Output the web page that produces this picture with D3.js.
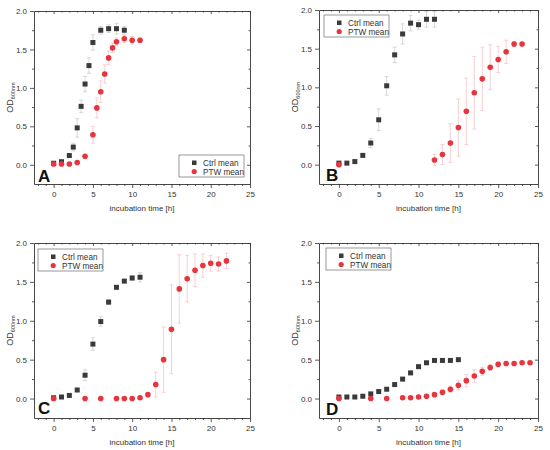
<!DOCTYPE html>
<html><head><meta charset="utf-8">
<script src="https://cdn.jsdelivr.net/npm/d3@7"></script>
<style>body{margin:0;background:#fff}svg{display:block;font-family:"Liberation Sans",Arial,sans-serif}</style>
</head><body>
<svg id="chart" width="550" height="450"></svg>
<script>
// ---- data ----
const panelLabels = ["A", "B", "C", "D"];
const seriesNames = ["Ctrl mean", "PTW mean"];
const xTicks = [0, 5, 10, 15, 20, 25];
const yTicks = [0.0, 0.5, 1.0, 1.5, 2.0];
const xLabel = "incubation time [h]";

const ctrlTimeA = [0, 1, 2, 2.5, 3, 3.5, 4, 4.5, 5, 6, 7, 8, 9];
const ctrlMeanA = [0.02, 0.04, 0.12, 0.23, 0.48, 0.76, 1.05, 1.29, 1.59, 1.75, 1.77, 1.77, 1.75];
const ctrlErrA  = [0.01, 0.01, 0.02, 0.05, 0.12, 0.08, 0.10, 0.10, 0.10, 0.05, 0.05, 0.07, 0.05];
const ptwTimeA  = [0, 1, 2, 3, 4, 5, 5.5, 6, 6.5, 7, 7.5, 8, 9, 10, 11];
const ptwMeanA  = [0.01, 0.01, 0.01, 0.03, 0.11, 0.39, 0.74, 0.95, 1.18, 1.39, 1.52, 1.60, 1.64, 1.62, 1.62];
const ptwErrA   = [0.01, 0.01, 0.01, 0.01, 0.02, 0.11, 0.13, 0.14, 0.12, 0.09, 0.06, 0.05, 0.05, 0.05, 0.03];

const ctrlTimeB = [0, 1, 2, 3, 4, 5, 6, 7, 8, 9, 10, 11, 12];
const ctrlMeanB = [0.02, 0.02, 0.04, 0.12, 0.28, 0.58, 1.02, 1.42, 1.69, 1.83, 1.81, 1.88, 1.88];
const ctrlErrB  = [0.01, 0.01, 0.01, 0.02, 0.06, 0.14, 0.12, 0.10, 0.13, 0.10, 0.06, 0.10, 0.10];
const ptwTimeB  = [0, 12, 13, 14, 15, 16, 17, 18, 19, 20, 21, 22, 23];
const ptwMeanB  = [0.00, 0.06, 0.13, 0.28, 0.48, 0.69, 0.93, 1.11, 1.26, 1.36, 1.46, 1.56, 1.56];
const ptwErrB   = [0.01, 0.07, 0.13, 0.25, 0.37, 0.43, 0.47, 0.41, 0.29, 0.17, 0.15, 0.03, 0.02];

const ctrlTimeC = [0, 1, 2, 3, 4, 5, 6, 7, 8, 9, 10, 11];
const ctrlMeanC = [0.01, 0.02, 0.04, 0.11, 0.30, 0.70, 0.99, 1.24, 1.43, 1.51, 1.55, 1.56];
const ctrlErrC  = [0.01, 0.01, 0.01, 0.02, 0.07, 0.08, 0.06, 0.03, 0.02, 0.02, 0.03, 0.06];
const ptwTimeC  = [0, 4, 6, 8, 9, 10, 11, 12, 13, 14, 15, 16, 17, 18, 19, 20, 21, 22];
const ptwMeanC  = [0.00, 0.00, 0.00, 0.00, 0.00, 0.00, 0.01, 0.05, 0.18, 0.50, 0.89, 1.41, 1.54, 1.65, 1.71, 1.74, 1.73, 1.77];
const ptwErrC   = [0.01, 0.01, 0.01, 0.01, 0.01, 0.01, 0.01, 0.02, 0.16, 0.42, 0.57, 0.44, 0.30, 0.21, 0.15, 0.10, 0.09, 0.10];

const ctrlTimeD = [0, 1, 2, 3, 4, 5, 6, 7, 8, 9, 10, 11, 12, 13, 14, 15];
const ctrlMeanD = [0.02, 0.02, 0.02, 0.03, 0.06, 0.09, 0.12, 0.18, 0.25, 0.33, 0.41, 0.46, 0.49, 0.49, 0.49, 0.50];
const ctrlErrD  = [0.01, 0.01, 0.01, 0.01, 0.01, 0.01, 0.01, 0.01, 0.01, 0.02, 0.02, 0.02, 0.01, 0.01, 0.01, 0.01];
const ptwTimeD  = [0, 4, 6, 8, 9, 10, 11, 12, 13, 14, 15, 16, 17, 18, 19, 20, 21, 22, 23, 24];
const ptwMeanD  = [0.00, 0.00, 0.00, 0.01, 0.01, 0.02, 0.03, 0.05, 0.08, 0.12, 0.17, 0.23, 0.29, 0.35, 0.40, 0.44, 0.45, 0.45, 0.46, 0.46];
const ptwErrD   = [0.01, 0.01, 0.01, 0.01, 0.01, 0.01, 0.01, 0.02, 0.03, 0.04, 0.06, 0.08, 0.08, 0.05, 0.04, 0.03, 0.02, 0.02, 0.02, 0.02];

// ---- layout (positions/styles) ----
const layout = [
  {x0: 34, x1: 250, y0: 11, y1: 184, legend: [179, 155], letter: [38, 182]},
  {x0: 319, x1: 538, y0: 10, y1: 184, legend: [324, 15], letter: [326, 181]},
  {x0: 34, x1: 250, y0: 243, y1: 418, legend: [38, 249], letter: [38, 414]},
  {x0: 319, x1: 538, y0: 243, y1: 418, legend: [326, 248], letter: [326, 415]}
];
const panelData = [
  [[ctrlTimeA, ctrlMeanA, ctrlErrA], [ptwTimeA, ptwMeanA, ptwErrA]],
  [[ctrlTimeB, ctrlMeanB, ctrlErrB], [ptwTimeB, ptwMeanB, ptwErrB]],
  [[ctrlTimeC, ctrlMeanC, ctrlErrC], [ptwTimeC, ptwMeanC, ptwErrC]],
  [[ctrlTimeD, ctrlMeanD, ctrlErrD], [ptwTimeD, ptwMeanD, ptwErrD]]
];
const markerColor = ["#3a3a3a", "#e8343c"];
const errColor = ["#cdcdcd", "#f5c4c6"];
const axisColor = "#333";
const textColor = "#333";

const svg = d3.select("#chart");

panelData.forEach((series, pi) => {
  const L = layout[pi];
  const x = d3.scaleLinear().domain([-2.5, 25]).range([L.x0, L.x1]);
  const y = d3.scaleLinear().domain([-0.25, 2.0]).range([L.y1, L.y0]);
  const g = svg.append("g");

  const minorX = d3.range(-2, 25, 1).filter(v => v % 5 !== 0);
  const minorY = [0.25, 0.75, 1.25, 1.75];

  // bottom axis
  g.append("g").attr("transform", `translate(0,${L.y1})`)
    .call(d3.axisBottom(x).tickValues(xTicks).tickFormat(d3.format("d")).tickSize(4).tickSizeOuter(0).tickPadding(3));
  g.append("g").attr("transform", `translate(0,${L.y1})`)
    .call(d3.axisBottom(x).tickValues(minorX).tickFormat("").tickSize(2)).select(".domain").remove();
  // left axis
  g.append("g").attr("transform", `translate(${L.x0},0)`)
    .call(d3.axisLeft(y).tickValues(yTicks).tickFormat(d3.format(".1f")).tickSize(4).tickSizeOuter(0).tickPadding(3));
  g.append("g").attr("transform", `translate(${L.x0},0)`)
    .call(d3.axisLeft(y).tickValues(minorY).tickFormat("").tickSize(2)).select(".domain").remove();
  // top axis (inward ticks)
  g.append("g").attr("transform", `translate(0,${L.y0})`)
    .call(d3.axisBottom(x).tickValues(xTicks).tickFormat("").tickSize(3).tickSizeOuter(0));
  g.append("g").attr("transform", `translate(0,${L.y0})`)
    .call(d3.axisBottom(x).tickValues(minorX).tickFormat("").tickSize(1.5)).select(".domain").remove();
  // right axis (inward ticks)
  g.append("g").attr("transform", `translate(${L.x1},0)`)
    .call(d3.axisLeft(y).tickValues(yTicks).tickFormat("").tickSize(3).tickSizeOuter(0));
  g.append("g").attr("transform", `translate(${L.x1},0)`)
    .call(d3.axisLeft(y).tickValues(minorY).tickFormat("").tickSize(1.5)).select(".domain").remove();

  g.selectAll(".domain").attr("stroke", axisColor).attr("stroke-width", 0.9);
  g.selectAll(".tick line").attr("stroke", axisColor).attr("stroke-width", 0.8);
  g.selectAll(".tick text").attr("fill", textColor).attr("font-size", 8)
    .attr("font-family", '"Liberation Sans", Arial, sans-serif');

  // axis titles
  g.append("text").attr("x", (L.x0 + L.x1) / 2).attr("y", L.y1 + 27)
    .attr("text-anchor", "middle").attr("font-size", 8).attr("fill", textColor).text(xLabel);
  const yl = g.append("text")
    .attr("transform", `translate(${L.x0 - 21},${(L.y0 + L.y1) / 2}) rotate(-90)`)
    .attr("text-anchor", "middle").attr("font-size", 9).attr("fill", textColor);
  yl.append("tspan").text("OD");
  yl.append("tspan").attr("font-size", 5.5).attr("dy", 2).text("600nm");

  // series: error bars first
  series.forEach((s, si) => {
    const pts = s[0].map((t, i) => ({t, m: s[1][i], e: s[2][i]}));
    const eg = g.append("g").attr("stroke", errColor[si]).attr("stroke-width", 0.8);
    pts.forEach(p => {
      const xc = x(p.t), yt = y(p.m + p.e), yb = y(p.m - p.e);
      eg.append("line").attr("x1", xc).attr("x2", xc).attr("y1", yt).attr("y2", yb);
      eg.append("line").attr("x1", xc - 2).attr("x2", xc + 2).attr("y1", yt).attr("y2", yt);
      eg.append("line").attr("x1", xc - 2).attr("x2", xc + 2).attr("y1", yb).attr("y2", yb);
    });
  });
  series.forEach((s, si) => {
    const pts = s[0].map((t, i) => ({t, m: s[1][i]}));
    if (si === 0) {
      g.append("g").selectAll("rect").data(pts).join("rect")
        .attr("x", d => x(d.t) - 2.5).attr("y", d => y(d.m) - 2.5)
        .attr("width", 5).attr("height", 5).attr("fill", markerColor[0]);
    } else {
      g.append("g").selectAll("circle").data(pts).join("circle")
        .attr("cx", d => x(d.t)).attr("cy", d => y(d.m)).attr("r", 2.8)
        .attr("fill", markerColor[1]);
    }
  });

  // legend
  const [lx, ly] = L.legend;
  const lg = g.append("g").attr("transform", `translate(${lx},${ly})`);
  lg.append("rect").attr("width", 65).attr("height", 22).attr("fill", "#fff")
    .attr("stroke", "#555").attr("stroke-width", 0.6);
  lg.append("rect").attr("x", 13).attr("y", 5.5).attr("width", 4.5).attr("height", 4.5).attr("fill", markerColor[0]);
  lg.append("circle").attr("cx", 15.2).attr("cy", 16.5).attr("r", 2.6).attr("fill", markerColor[1]);
  lg.append("text").attr("x", 24).attr("y", 10.8).attr("font-size", 8.2).attr("fill", textColor).text(seriesNames[0]);
  lg.append("text").attr("x", 24).attr("y", 19.6).attr("font-size", 8.2).attr("fill", textColor).text(seriesNames[1]);

  // panel letter
  g.append("text").attr("x", L.letter[0]).attr("y", L.letter[1])
    .attr("font-size", 17).attr("font-weight", "bold").attr("fill", "#111").text(panelLabels[pi]);
});
</script>
</body></html>
